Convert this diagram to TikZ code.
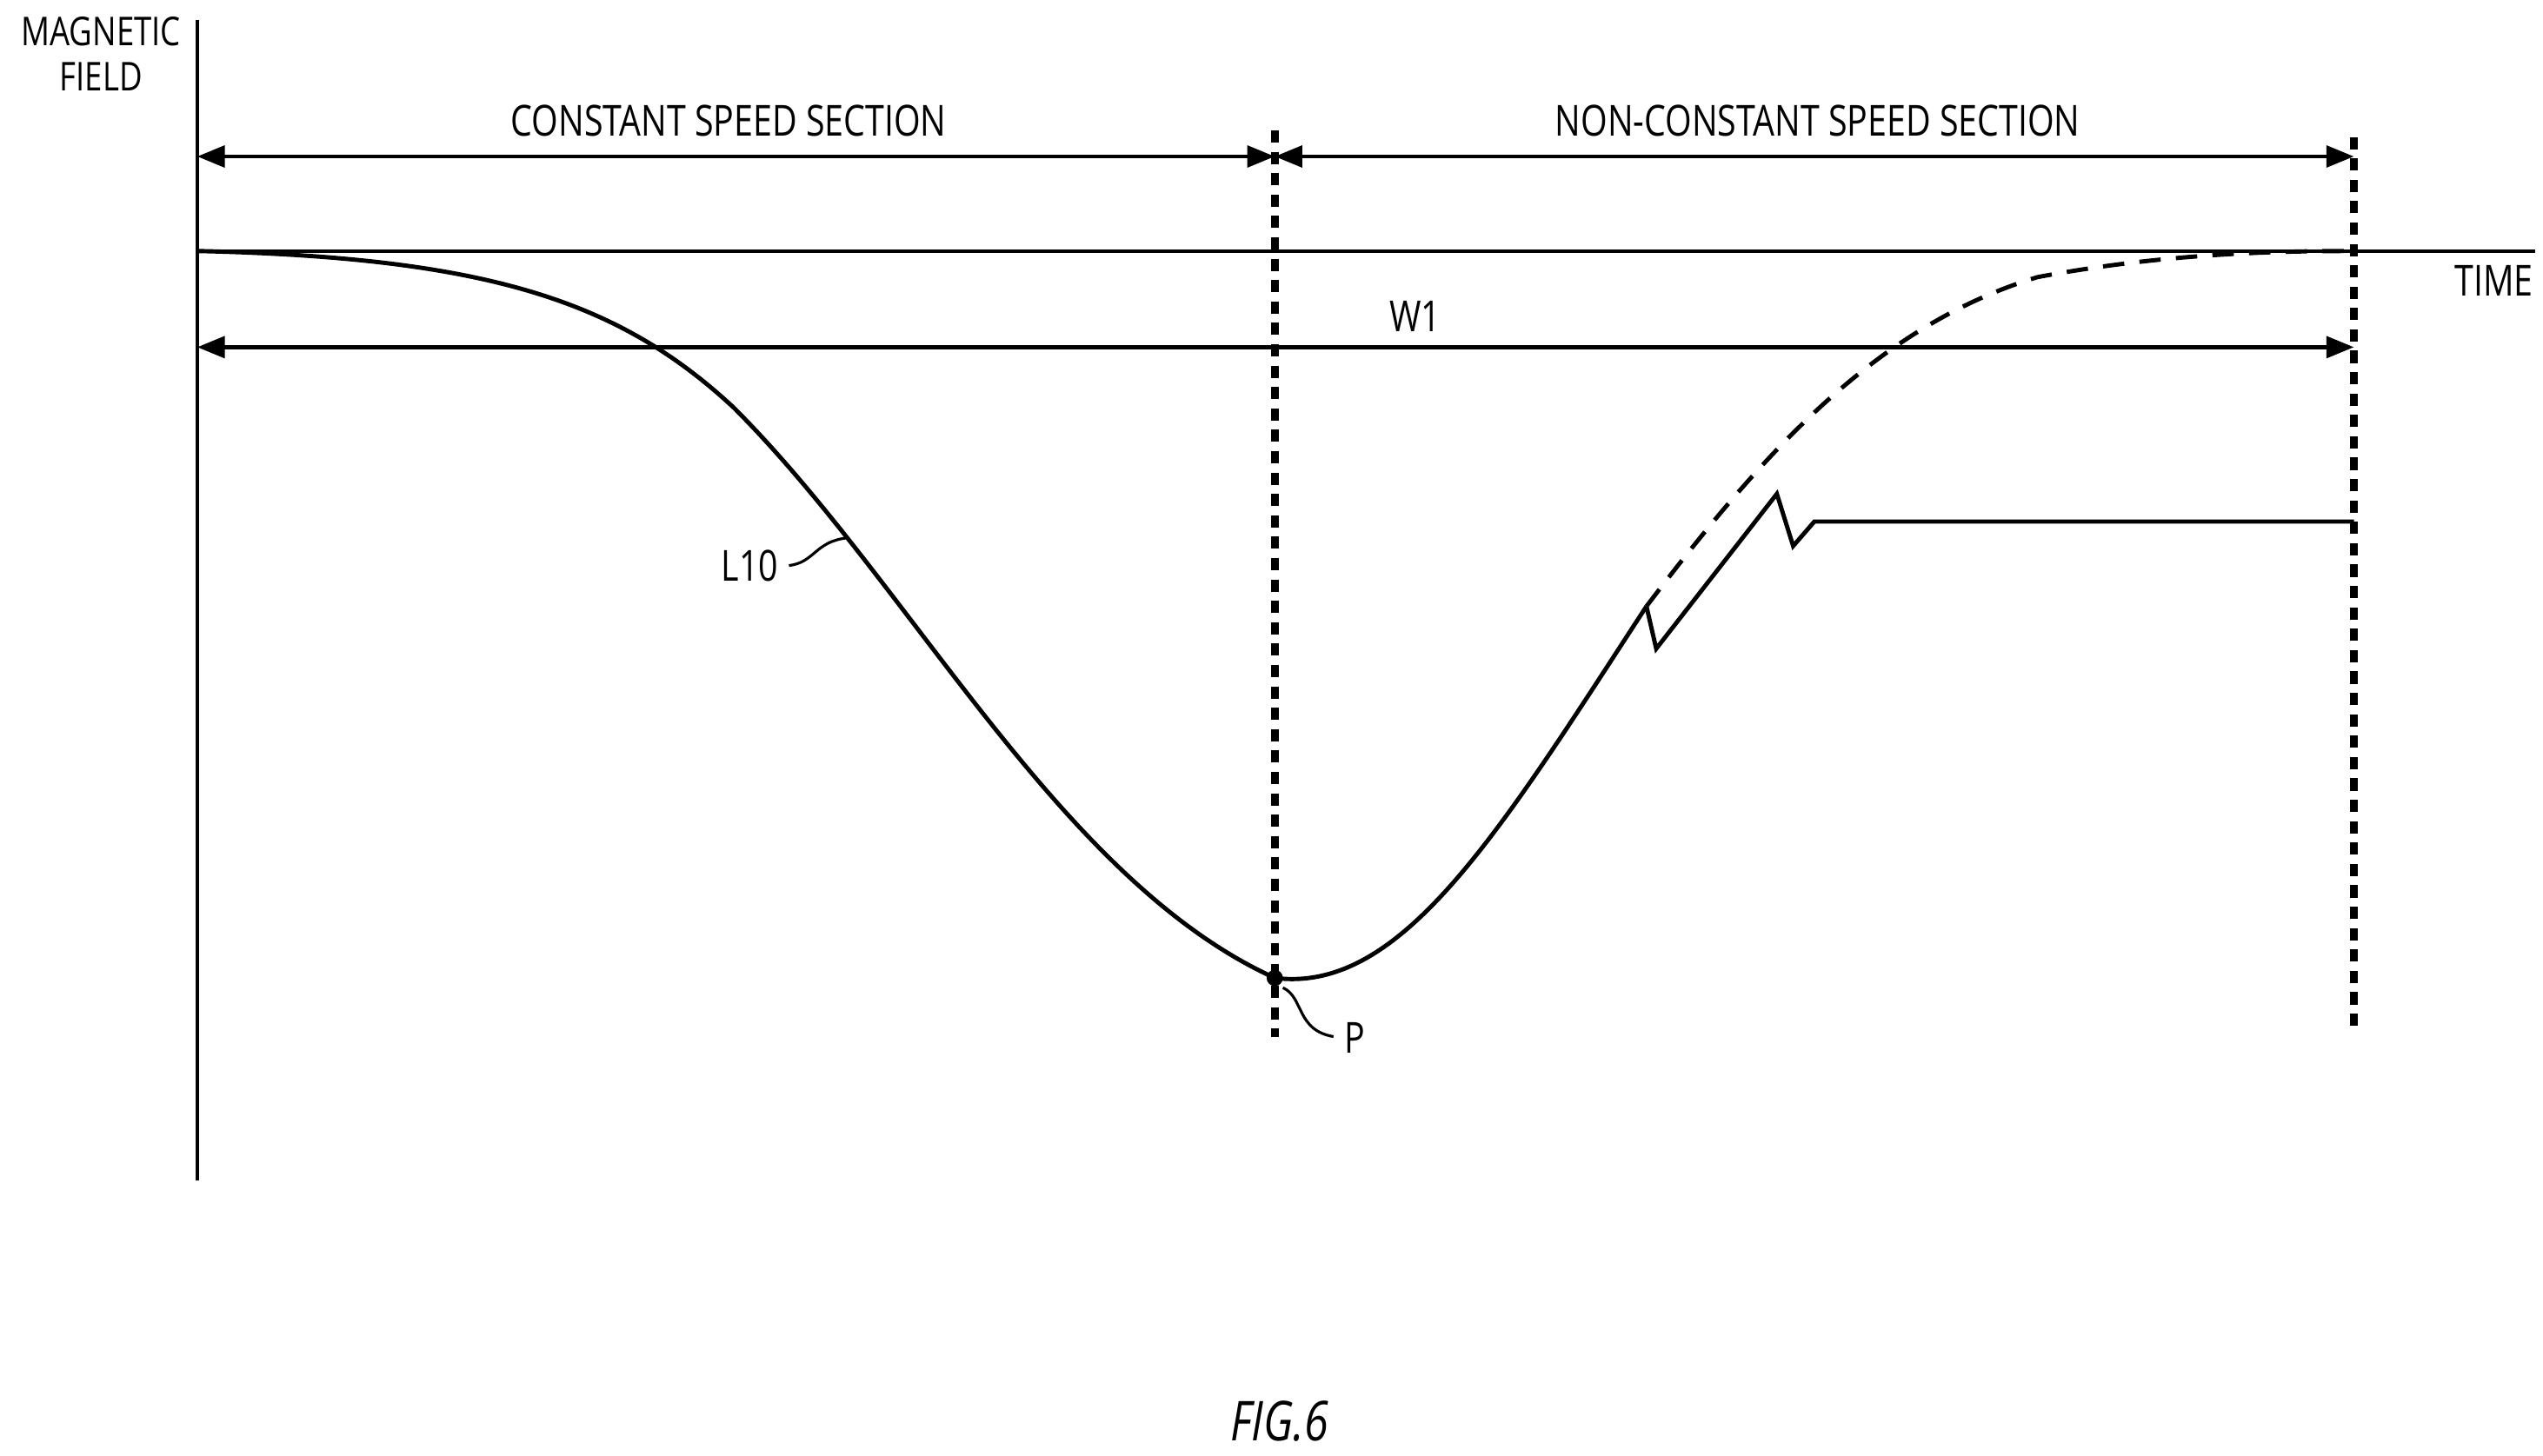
\documentclass[tikz,border=0pt]{standalone}
\usepackage{fontspec}
\setmainfont{Open Sans}[FakeStretch=0.8]
\usetikzlibrary{arrows.meta}
\begin{document}
\begin{tikzpicture}[x=0.01875cm,y=-0.01875cm,
  lbl/.style={font=\fontsize{14}{16}\selectfont,inner sep=0pt},
  dim/.style={line width=1.3pt,{Triangle[length=9pt,width=7pt]}-{Triangle[length=9pt,width=7pt]}},
  dotv/.style={line width=2.5pt,dash pattern=on 4pt off 3pt},
  crv/.style={line width=1.4pt}]
\useasboundingbox (0,0) rectangle (1560,893);
\coordinate (yt) at (121,12); \coordinate (yb) at (121,724);
\coordinate (tl) at (121,154); \coordinate (tr) at (1555,154);
\draw[line width=1.2pt] (yt)--(yb);
\draw[line width=1.2pt] (tl)--(tr);
\node[lbl,align=center,font=\fontsize{13}{15}\selectfont] (mf) at (62,33) {MAGNETIC\\FIELD};
\node[lbl] (time) at (1530,172) {TIME};
\coordinate (a1) at (121,96); \coordinate (a2) at (782,96); \coordinate (a3) at (1444,96);
\draw[dim] (a1)--(a2); \draw[dim] (a2)--(a3);
\node[lbl] (cs) at (447,74) {CONSTANT SPEED SECTION};
\node[lbl] (ncs) at (1115,74) {NON-CONSTANT SPEED SECTION};
\coordinate (w1l) at (121,213); \coordinate (w1r) at (1444,213);
\draw[dim] (w1l)--(w1r);
\node[lbl] (w1) at (868,194) {W1};
\coordinate (d1t) at (782,80); \coordinate (d1b) at (782,636);
\coordinate (d2t) at (1444,84); \coordinate (d2b) at (1444,632);
\draw[dotv] (d1t)--(d1b); \draw[dotv] (d2t)--(d2b);
\coordinate (p) at (782,600);
\draw[crv] (121,154) .. controls (300,158) and (380,185) .. (450,250)
  .. controls (560,360) and (650,540) .. (p)
  .. controls (860,610) and (920,510) .. (1010,372);
\draw[crv] (1010,372)--(1016,398)--(1090,303)--(1100,335)--(1113,320)--(1444,320);
\draw[crv,dash pattern=on 7pt off 5pt] (1010,372) .. controls (1080,280) and (1150,200) .. (1250,170) .. controls (1330,155) and (1400,154) .. (1444,154);
\fill (p) circle (5);
\node[lbl] (P) at (831,637) {P};
\draw[line width=0.9pt] (787,606) .. controls (800,612) and (795,632) .. (818,636);
\node[lbl] (L10) at (460,347) {L10};
\draw[line width=0.9pt] (484,347) .. controls (500,345) and (500,332) .. (520,330);
\node[font=\itshape\fontsize{18}{20}\selectfont] (fig) at (785,872) {FIG.6};
\end{tikzpicture}
\end{document}
